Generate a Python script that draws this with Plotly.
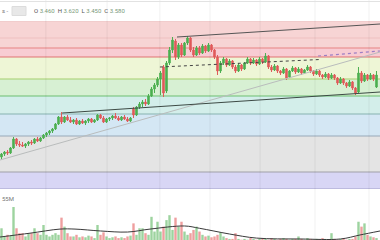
import plotly.graph_objects as go

# ---------------- data ----------------
opens = [2.76,2.79,2.81,2.80,2.85,2.94,2.89,2.88,2.87,2.89,2.91,2.90,2.94,2.92,2.95,2.98,3.00,3.02,3.04,3.09,
         3.16,3.11,3.16,3.13,3.11,3.13,3.09,3.12,3.10,3.12,3.14,3.11,3.13,3.18,3.15,3.11,3.14,3.15,3.17,3.15,
         3.13,3.16,3.14,3.12,3.24,3.18,3.26,3.29,3.31,3.29,3.37,3.44,3.48,3.54,3.66,3.42,3.70,3.83,3.92,3.76,
         3.88,3.78,3.90,3.95,3.83,3.78,3.85,3.80,3.87,3.82,3.88,3.83,3.76,3.62,3.70,3.74,3.68,3.72,3.66,3.62,
         3.68,3.64,3.70,3.74,3.70,3.73,3.69,3.74,3.71,3.77,3.66,3.63,3.67,3.62,3.60,3.64,3.56,3.62,3.65,3.61,
         3.64,3.60,3.63,3.66,3.62,3.59,3.62,3.58,3.56,3.59,3.55,3.58,3.55,3.50,3.54,3.50,3.47,3.51,3.45,3.41,
         3.60,3.52,3.58,3.54,3.58,3.46]
highs = [2.80,2.82,2.83,2.86,2.96,2.95,2.92,2.91,2.90,2.92,2.93,2.95,2.96,2.96,2.99,3.01,3.03,3.05,3.10,3.17,
         3.21,3.17,3.18,3.16,3.14,3.15,3.13,3.14,3.13,3.15,3.15,3.14,3.19,3.19,3.17,3.15,3.16,3.18,3.20,3.17,
         3.17,3.18,3.16,3.16,3.26,3.27,3.31,3.33,3.34,3.39,3.46,3.50,3.56,3.62,3.68,3.72,3.86,3.96,3.94,3.90,
         3.90,3.91,3.97,3.96,3.86,3.87,3.87,3.89,3.88,3.90,3.89,3.84,3.78,3.72,3.76,3.75,3.74,3.73,3.68,3.70,
         3.69,3.71,3.76,3.75,3.75,3.74,3.76,3.75,3.80,3.78,3.68,3.69,3.68,3.63,3.66,3.65,3.63,3.67,3.66,3.66,
         3.65,3.64,3.68,3.67,3.63,3.64,3.63,3.59,3.61,3.60,3.60,3.59,3.56,3.56,3.55,3.51,3.53,3.52,3.46,3.66,
         3.62,3.60,3.59,3.60,3.59,3.62]
lows = [2.74,2.77,2.78,2.79,2.84,2.87,2.86,2.86,2.85,2.87,2.88,2.89,2.91,2.91,2.94,2.96,2.98,3.00,3.03,3.08,
        3.09,3.10,3.12,3.10,3.09,3.08,3.08,3.09,3.08,3.10,3.10,3.10,3.12,3.14,3.10,3.10,3.12,3.13,3.14,3.12,
        3.12,3.13,3.11,3.11,3.15,3.17,3.24,3.26,3.27,3.28,3.36,3.40,3.46,3.38,3.36,3.40,3.68,3.80,3.73,3.74,
        3.76,3.77,3.88,3.81,3.76,3.77,3.78,3.79,3.80,3.81,3.81,3.74,3.58,3.60,3.68,3.66,3.67,3.64,3.60,3.61,
        3.62,3.63,3.69,3.68,3.69,3.67,3.68,3.69,3.70,3.64,3.61,3.62,3.60,3.58,3.59,3.53,3.55,3.61,3.59,3.60,
        3.58,3.59,3.62,3.60,3.57,3.58,3.56,3.54,3.55,3.53,3.54,3.53,3.48,3.49,3.48,3.45,3.46,3.43,3.38,3.40,
        3.50,3.51,3.52,3.53,3.52,3.45]
closes = [2.79,2.81,2.80,2.85,2.94,2.89,2.88,2.87,2.89,2.91,2.90,2.94,2.92,2.95,2.98,3.00,3.02,3.04,3.09,3.16,
          3.11,3.16,3.13,3.11,3.13,3.09,3.12,3.10,3.12,3.14,3.11,3.13,3.18,3.15,3.11,3.14,3.15,3.17,3.15,3.13,
          3.16,3.14,3.12,3.15,3.18,3.26,3.29,3.31,3.29,3.37,3.44,3.48,3.54,3.60,3.40,3.70,3.83,3.93,3.76,3.88,
          3.78,3.90,3.95,3.83,3.78,3.85,3.80,3.87,3.82,3.88,3.83,3.76,3.62,3.70,3.74,3.68,3.72,3.66,3.62,3.68,
          3.64,3.70,3.74,3.70,3.73,3.69,3.74,3.71,3.77,3.66,3.63,3.67,3.62,3.60,3.64,3.55,3.62,3.65,3.61,3.64,
          3.60,3.63,3.66,3.62,3.59,3.62,3.58,3.56,3.59,3.55,3.58,3.55,3.50,3.54,3.50,3.47,3.51,3.45,3.40,3.60,
          3.52,3.58,3.54,3.58,3.54,3.58]
volumes_m = [18,8,10,9,44,18,12,12,8,12, 12,18,12,10,22,10,8,10,12,10,
             31,20,12,8,8,10,7,8,7,9, 8,6,22,10,13,8,6,7,8,6,
             7,6,8,9,24,10,18,18,12,10, 32,14,26,14,20,28,34,16,31,20,
             26,14,10,12,16,20,14,10,8,9, 7,8,10,13,8,6,5,5,12,5,
             4,5,4,6,5,4,5,6,5,4, 6,5,4,5,6,5,4,5,5,8,
             5,4,6,5,4,5,4,6,5,4, 12,5,4,5,6,4,5,5,8,26,
             20,24,10,8,7,6]
# volume moving-average line read at a few candle positions
vol_ma_idx = [-0.5, 9.5, 19.5, 24.5, 33, 42, 49.5, 61, 66, 76, 85, 99.5, 113, 119.5, 126.2]
vol_ma_val = [7.3, 12, 17, 17, 14.7, 13.4, 17, 20.8, 18, 11, 6, 4.9, 4.9, 9.8, 14.7]

# Fibonacci-style horizontal levels (price) and band colours
fib_levels = [4.12, 3.95, 3.85, 3.76, 3.54, 3.37, 3.19, 2.97, 2.61, 2.44]
band_colors = ["#f7d4d4", "#f7d4d4", "#f8ccd3", "#eef6d6", "#d7f0d3",
               "#d3eeea", "#d4e7f4", "#e4e4e4", "#d8d6f5"]
level_colors = ["#ecc4c4", "#efc0c0", "#e68383", "#e07272", "#a5cf6e",
                "#6cbf70", "#86b3b0", "#98a8b8", "#a0a0a8", "#a3a1c8"]

# trend lines (candle index, price)
upper_x, upper_y = [58.5, 126.2], [3.96, 4.09]
lower_x, lower_y = [20.2, 126.2], [3.20, 3.41]
long_x, long_y = [-0.5, 126.2], [2.73, 3.81]
dot_x, dot_y = [52.8, 106.2], [3.66, 3.735]
pdot_x, pdot_y = [105.5, 126.2], [3.77, 3.82]
time_grid = [14.8, 35.2, 52.8, 69.5, 86.2, 104.5, 122.5]

header_vals = {"O": "3.460", "H": "3.620", "L": "3.450", "C": "3.580"}

# ---------------- figure ----------------
idx = list(range(len(closes)))
W, H = 380, 240
def py(p):  # pixel -> paper
    return 1 - p / H

fig = go.Figure()

fig.add_trace(go.Candlestick(
    x=idx, open=opens, high=highs, low=lows, close=closes,
    increasing=dict(line=dict(color="#4caf50", width=1), fillcolor="#4caf50"),
    decreasing=dict(line=dict(color="#e05a5a", width=1), fillcolor="#e05a5a"),
    whiskerwidth=0, hoverinfo="skip", showlegend=False, xaxis="x", yaxis="y"))

vcols = ["rgba(76,175,80,0.55)" if c >= o else "rgba(224,80,80,0.55)" for o, c in zip(opens, closes)]
fig.add_trace(go.Bar(x=idx, y=volumes_m, marker=dict(color=vcols, line=dict(width=0)),
                     width=0.8, hoverinfo="skip", showlegend=False, xaxis="x", yaxis="y2"))
fig.add_trace(go.Scatter(x=vol_ma_idx, y=vol_ma_val, mode="lines", line=dict(color="#3a3a3a", width=1, shape="spline"),
                         hoverinfo="skip", showlegend=False, xaxis="x", yaxis="y2"))

for xs, ys, col, dash, wd in [(long_x, long_y, "#b9bcbc", "solid", 1),
                              (upper_x, upper_y, "#555555", "solid", 1),
                              (lower_x, lower_y, "#3d4a45", "solid", 1),
                              (dot_x, dot_y, "#444444", "dot", 1),
                              (pdot_x, pdot_y, "#9d7fc4", "dot", 1.2)]:
    fig.add_trace(go.Scatter(x=xs, y=ys, mode="lines", line=dict(color=col, width=wd, dash=dash),
                             hoverinfo="skip", showlegend=False, xaxis="x", yaxis="y"))

shapes = []
for i, col in enumerate(band_colors):
    shapes.append(dict(type="rect", xref="paper", yref="y", x0=0, x1=1,
                       y0=fib_levels[i + 1], y1=fib_levels[i], fillcolor=col, line=dict(width=0), layer="below"))
for lv, col in zip(fib_levels, level_colors):
    shapes.append(dict(type="line", xref="paper", yref="y", x0=0, x1=1, y0=lv, y1=lv,
                       line=dict(color=col, width=1), layer="below"))
for t in time_grid:
    shapes.append(dict(type="line", xref="x", yref="paper", x0=t, x1=t, y0=0, y1=1,
                       line=dict(color="rgba(0,0,0,0.06)", width=1), layer="below"))
# top border and header box
shapes.append(dict(type="line", xref="paper", yref="paper", x0=0, x1=1, y0=py(1.5), y1=py(1.5),
                   line=dict(color="#e2e2e2", width=1)))
shapes.append(dict(type="rect", xref="paper", yref="paper", x0=12 / W, x1=26 / W, y0=py(15.5), y1=py(6.5),
                   fillcolor="#e8e8e8", line=dict(color="#dcdcdc", width=1)))

head = "  ".join(f"<span style='color:#555'>{k}</span> <span style='color:#7a9a7a'>{v}</span>"
                 for k, v in header_vals.items())
annotations = [
    dict(xref="paper", yref="paper", x=32 / W, y=py(11), xanchor="left", yanchor="middle",
         text=head, showarrow=False, font=dict(family="Roboto", size=6, color="#555")),
    dict(xref="paper", yref="paper", x=0, y=py(11), xanchor="left", yanchor="middle",
         text="s -", showarrow=False, font=dict(family="Roboto", size=6, color="#777")),
    dict(xref="paper", yref="paper", x=0, y=py(198), xanchor="left", yanchor="middle",
         text="55M", showarrow=False, font=dict(family="Roboto", size=6, color="#777")),
]

fig.update_layout(
    width=W, height=H, margin=dict(l=0, r=0, t=0, b=0),
    paper_bgcolor="white", plot_bgcolor="white",
    showlegend=False, shapes=shapes, annotations=annotations, bargap=0.2,
    xaxis=dict(range=[-0.5, 126.17], visible=False, rangeslider=dict(visible=False), fixedrange=True),
    yaxis=dict(domain=[py(189), py(21)], range=[2.44, 4.12], visible=False),
    yaxis2=dict(domain=[0, py(189)], range=[3.67, 66], visible=False, anchor="x"),
)

fig.write_html("out.html")
